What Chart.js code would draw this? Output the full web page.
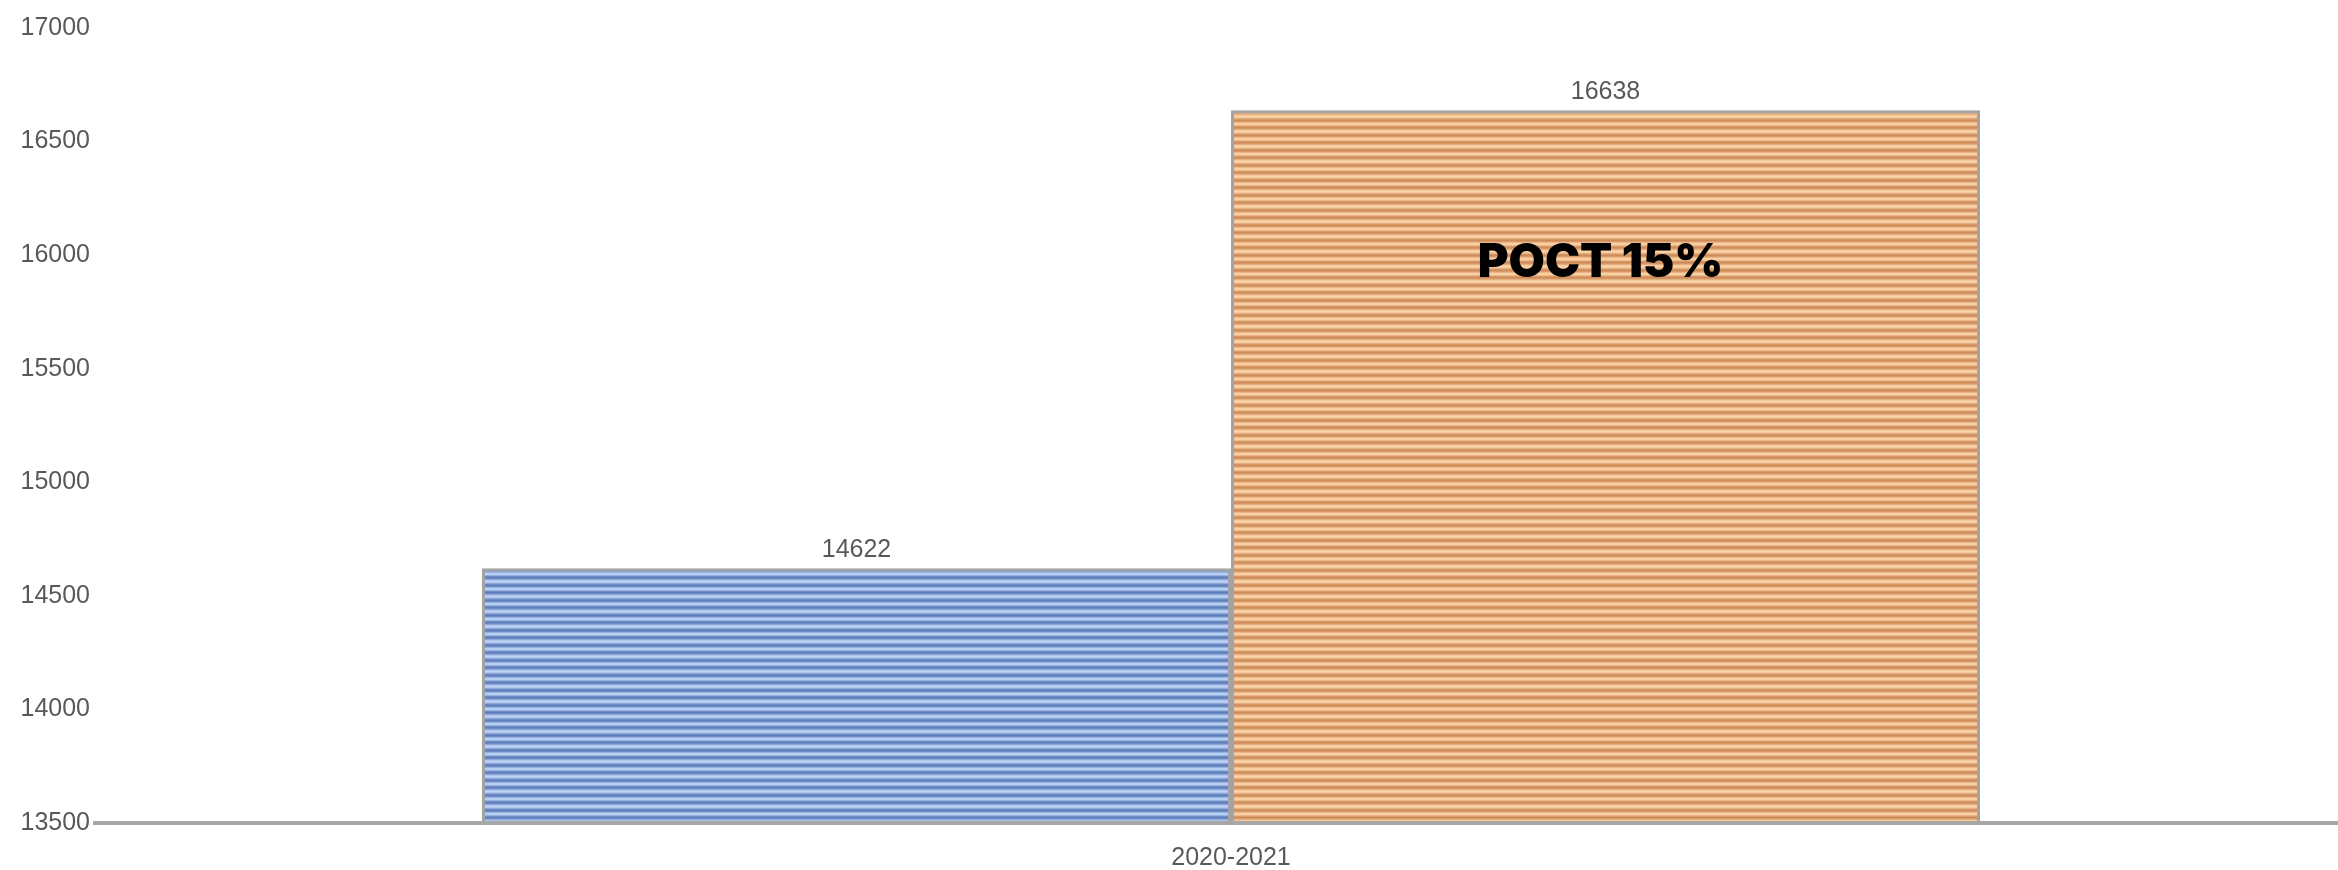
<!DOCTYPE html>
<html>
<head>
<meta charset="utf-8">
<script src="https://cdn.jsdelivr.net/npm/chart.js@4.4.1/dist/chart.umd.min.js"></script>
<style>
  html, body { margin: 0; padding: 0; background: #fff; overflow: hidden; }
  #wrap { width: 2338px; height: 870px; position: relative; }
</style>
</head>
<body>
<div id="wrap"><canvas id="myChart" width="2338" height="870"></canvas></div>
<script>
const categories = ['2020-2021'];
const seriesA = [14622];
const seriesB = [16638];
const yTicks = [13500, 14000, 14500, 15000, 15500, 16000, 16500, 17000];
const growthText = 'РОСТ 15%';
const growthAt = 15965; // примерная высота надписи по шкале

// горизонтальная штриховка как в Excel
function stripes(dark, light) {
    const c = document.createElement('canvas');
    c.width = 4; c.height = 15;
    const g = c.getContext('2d');
    for (let y = 0; y < 15; y++) {
        const p = y < 7 ? y / 7 : (y - 7) / 8;
        const t = (1 - Math.cos(p * 2 * Math.PI)) / 2; // 0 тёмный, 1 светлый
        const col = dark.map((v, i) => Math.round(v + (light[i] - v) * t));
        g.fillStyle = 'rgb(' + col.join(',') + ')';
        g.fillRect(0, y, 4, 1);
    }
    return g.createPattern(c, 'repeat');
}

const valueLabels = {
    id: 'valueLabels',
    afterDatasetsDraw(chart) {
        const ctx = chart.ctx;
        ctx.save();
        ctx.font = '25px "Liberation Sans", Arial, sans-serif';
        ctx.fillStyle = '#595959';
        ctx.textAlign = 'center';
        ctx.textBaseline = 'middle';
        chart.data.datasets.forEach((ds, i) => {
            chart.getDatasetMeta(i).data.forEach((el, j) => {
                ctx.fillText(ds.data[j], el.x, el.y - 18);
            });
        });
        // надпись о росте на второй колонке
        const el = chart.getDatasetMeta(1).data[0];
        ctx.font = '900 47px Inter, "Open Sans", sans-serif';
        ctx.fillStyle = '#000';
        ctx.fillText(growthText, el.x - 5, chart.scales.y.getPixelForValue(growthAt));
        ctx.restore();
    }
};

const baseLine = {
    id: 'baseLine',
    afterDatasetsDraw(chart) {
        const ctx = chart.ctx;
        const y = chart.scales.y.bottom;
        ctx.save();
        ctx.strokeStyle = '#a6a6a6';
        ctx.lineWidth = 4;
        ctx.beginPath();
        ctx.moveTo(93, y);
        ctx.lineTo(chart.width, y);
        ctx.stroke();
        ctx.restore();
    }
};

const ctx = document.getElementById('myChart').getContext('2d');
const myChart = new Chart(ctx, {
    type: 'bar',
    data: {
        labels: categories,
        datasets: [{
            data: seriesA,
            backgroundColor: stripes([94, 125, 187], [189, 212, 246]),
            borderColor: '#a3a3a3',
            borderWidth: 3,
            borderSkipped: 'bottom'
        }, {
            data: seriesB,
            backgroundColor: stripes([206, 140, 90], [252, 212, 166]),
            borderColor: '#a3a3a3',
            borderWidth: 3,
            borderSkipped: 'bottom'
        }]
    },
    options: {
        responsive: false,
        animation: false,
        layout: { padding: { top: 28, right: 0, bottom: 0, left: 0 } },
        plugins: {
            legend: { display: false },
            tooltip: { enabled: false }
        },
        datasets: {
            bar: { categoryPercentage: 0.6766, barPercentage: 1.0 }
        },
        scales: {
            x: {
                grid: { display: false, drawTicks: false },
                border: { display: false },
                ticks: {
                    color: '#595959',
                    padding: 20,
                    font: { family: '"Liberation Sans", Arial, sans-serif', size: 25 }
                },
                afterFit(scale) { scale.height = 47; }
            },
            y: {
                min: yTicks[0],
                max: yTicks[yTicks.length - 1],
                grid: { display: false, drawTicks: true, tickLength: 34 },
                border: { display: false },
                afterBuildTicks(scale) {
                    scale.ticks = yTicks.map(v => ({ value: v }));
                },
                ticks: {
                    color: '#595959',
                    padding: 0,
                    callback: v => String(v),
                    font: { family: '"Liberation Sans", Arial, sans-serif', size: 25 }
                },
                afterFit(scale) { scale.width = 124; }
            }
        }
    },
    plugins: [baseLine, valueLabels]
});
</script>
</body>
</html>
